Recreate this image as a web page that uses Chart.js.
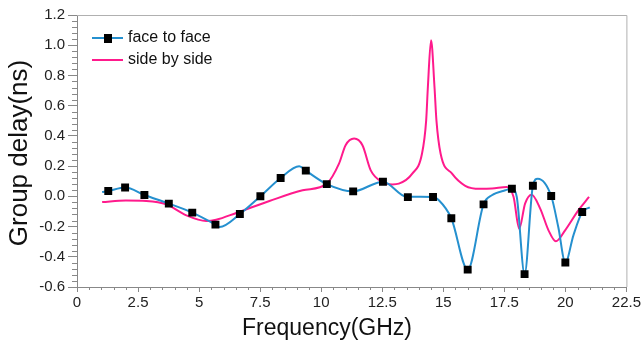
<!DOCTYPE html>
<html>
<head>
<meta charset="utf-8">
<script src="https://cdn.jsdelivr.net/npm/chart.js@4"></script>
<style>
  html, body { margin: 0; padding: 0; background: #fff; }
</style>
</head>
<body>
<canvas id="grafico" width="643" height="345"></canvas>
<script>
// Etiquetas de los ejes
const xTickLabels = ['0', '2.5', '5', '7.5', '10', '12.5', '15', '17.5', '20', '22.5'];
const yTickLabels = ['-0.6', '-0.4', '-0.2', '0.0', '0.2', '0.4', '0.6', '0.8', '1.0', '1.2'];

// Curva "face to face"
const faceFreq  = [1.03, 1.28, 1.97, 2.76, 3.76, 4.72, 5.67, 5.84, 6.67, 7.51, 8.34, 9.1, 9.37, 10.23, 11.31, 12.53, 13.5, 14.58, 14.82, 15.33, 16.0, 16.65, 16.99, 17.54, 17.81, 18.01, 18.33, 18.67, 18.87, 19.42, 19.71, 20.0, 20.33, 20.69, 21.0];
const faceDelay = [0.028, 0.035, 0.058, 0.009, -0.048, -0.108, -0.187, -0.203, -0.117, 0.0, 0.121, 0.199, 0.17, 0.081, 0.033, 0.097, -0.003, -0.004, -0.026, -0.145, -0.485, -0.053, 0.007, 0.04, 0.05, -0.004, -0.515, 0.07, 0.117, 0.002, -0.203, -0.438, -0.258, -0.104, -0.073];

// Marcadores cuadrados de "face to face"
const markerFreq  = [1.28, 1.97, 2.76, 3.76, 4.72, 5.67, 6.67, 7.51, 8.34, 9.37, 10.23, 11.31, 12.53, 13.55, 14.58, 15.33, 16.0, 16.65, 17.81, 18.33, 18.67, 19.42, 20.0, 20.69];
const markerDelay = [0.035, 0.058, 0.009, -0.048, -0.108, -0.187, -0.117, 0.0, 0.121, 0.17, 0.081, 0.033, 0.097, -0.005, -0.004, -0.145, -0.485, -0.053, 0.05, -0.515, 0.07, 0.002, -0.438, -0.104];

// Curva "side by side"
const sideFreq  = [1.03, 2.0, 2.84, 3.66, 4.48, 5.29, 5.7, 6.52, 7.88, 9.24, 10.23, 10.73, 11.0, 11.35, 11.69, 12.03, 12.5, 12.91, 13.18, 13.73, 14.13, 14.3, 14.37, 14.5, 14.64, 14.72, 14.89, 15.36, 15.9, 16.5, 17.0, 17.6, 17.88, 18.11, 18.35, 18.62, 18.97, 19.31, 19.61, 19.99, 20.53, 20.97];
const sideDelay = [-0.038, -0.028, -0.031, -0.053, -0.126, -0.163, -0.155, -0.11, -0.031, 0.04, 0.084, 0.216, 0.338, 0.382, 0.338, 0.172, 0.095, 0.079, 0.084, 0.15, 0.283, 0.503, 0.725, 1.033, 0.725, 0.503, 0.283, 0.15, 0.07, 0.05, 0.052, 0.062, -0.004, -0.214, -0.048, 0.011, -0.081, -0.225, -0.298, -0.225, -0.093, -0.004];

const AZUL = '#2590cf';
const ROSA = '#ff1a8c';
const FUENTE = "'Liberation Sans', Arial, sans-serif";

const puntos = (xs, ys) => xs.map((x, i) => ({ x: x, y: ys[i] }));

// Plugin para marco, ticks menores, leyenda y titulos
const extras = {
    id: 'extras',
    afterDraw(chart) {
        const ctx = chart.ctx;
        const area = chart.chartArea;
        const sx = chart.scales.x;
        const sy = chart.scales.y;
        ctx.save();

        // marco superior y derecho
        ctx.strokeStyle = '#b0b0b0';
        ctx.lineWidth = 1;
        ctx.beginPath();
        ctx.moveTo(area.left, area.top + 0.5);
        ctx.lineTo(area.right + 0.5, area.top + 0.5);
        ctx.lineTo(area.right + 0.5, area.bottom);
        ctx.stroke();

        // ticks menores
        ctx.strokeStyle = '#888';
        ctx.beginPath();
        for (let i = 0; i <= 45; i++) {
            if (i % 5 === 0) continue;
            const px = Math.round(sx.getPixelForValue(i * 0.5)) + 0.5;
            ctx.moveTo(px, area.bottom);
            ctx.lineTo(px, area.bottom + 3);
        }
        for (let i = 0; i <= 45; i++) {
            if (i % 5 === 0) continue;
            const py = Math.round(sy.getPixelForValue(-0.6 + i * 0.04)) + 0.5;
            ctx.moveTo(area.left, py);
            ctx.lineTo(area.left - 5, py);
        }
        ctx.stroke();

        // leyenda
        ctx.lineWidth = 2;
        ctx.strokeStyle = AZUL;
        ctx.beginPath();
        ctx.moveTo(92, 38);
        ctx.lineTo(123, 38);
        ctx.stroke();
        ctx.fillStyle = '#000';
        ctx.fillRect(104, 34, 8, 9);
        ctx.strokeStyle = ROSA;
        ctx.beginPath();
        ctx.moveTo(92, 60);
        ctx.lineTo(123, 60);
        ctx.stroke();
        ctx.fillStyle = '#111';
        ctx.font = '16px ' + FUENTE;
        ctx.textBaseline = 'middle';
        ctx.textAlign = 'left';
        ctx.fillText('face to face', 128, 38);
        ctx.fillText('side by side', 128, 60);

        // titulos de los ejes
        ctx.font = '23px ' + FUENTE;
        ctx.textAlign = 'center';
        ctx.fillText('Frequency(GHz)', 327, 329);
        ctx.translate(20, 153);
        ctx.rotate(-Math.PI / 2);
        ctx.font = '26px ' + FUENTE;
        ctx.fillText('Group delay(ns)', 0, 0);
        ctx.restore();
    }
};

const ctx = document.getElementById('grafico').getContext('2d');

new Chart(ctx, {
    type: 'line',
    data: {
        datasets: [
            {
                label: 'face to face marcadores',
                data: puntos(markerFreq, markerDelay),
                showLine: false,
                pointStyle: 'rect',
                pointRadius: 5.6,
                pointBackgroundColor: '#000',
                pointBorderColor: '#000',
                pointBorderWidth: 0,
                order: 0
            },
            {
                label: 'face to face',
                data: puntos(faceFreq, faceDelay),
                borderColor: AZUL,
                borderWidth: 2,
                pointRadius: 0,
                cubicInterpolationMode: 'monotone',
                fill: false,
                order: 1
            },
            {
                label: 'side by side',
                data: puntos(sideFreq, sideDelay),
                borderColor: ROSA,
                borderWidth: 2,
                pointRadius: 0,
                cubicInterpolationMode: 'monotone',
                fill: false,
                order: 2
            }
        ]
    },
    options: {
        responsive: false,
        animation: false,
        layout: { padding: { top: 15, right: 15, left: 0, bottom: 0 } },
        plugins: {
            legend: { display: false },
            tooltip: { enabled: false }
        },
        scales: {
            x: {
                type: 'linear',
                min: 0,
                max: 22.5,
                afterBuildTicks: (s) => { s.ticks = xTickLabels.map(t => ({ value: parseFloat(t) })); },
                afterFit: (s) => { s.height = 58; },
                ticks: {
                    callback: (v, i) => xTickLabels[i],
                    color: '#222',
                    font: { family: FUENTE, size: 15 },
                    padding: 2,
                    maxRotation: 0
                },
                grid: { drawOnChartArea: false, drawTicks: true, tickLength: 5, color: '#888' },
                border: { color: '#888' }
            },
            y: {
                type: 'linear',
                min: -0.6,
                max: 1.2,
                afterBuildTicks: (s) => { s.ticks = yTickLabels.map(t => ({ value: parseFloat(t) })); },
                afterFit: (s) => { s.width = 77; },
                ticks: {
                    callback: (v, i) => yTickLabels[i],
                    color: '#222',
                    font: { family: FUENTE, size: 15 },
                    padding: 3
                },
                grid: { drawOnChartArea: false, drawTicks: true, tickLength: 9, color: '#888' },
                border: { color: '#888' }
            }
        }
    },
    plugins: [extras]
});
</script>
</body>
</html>
